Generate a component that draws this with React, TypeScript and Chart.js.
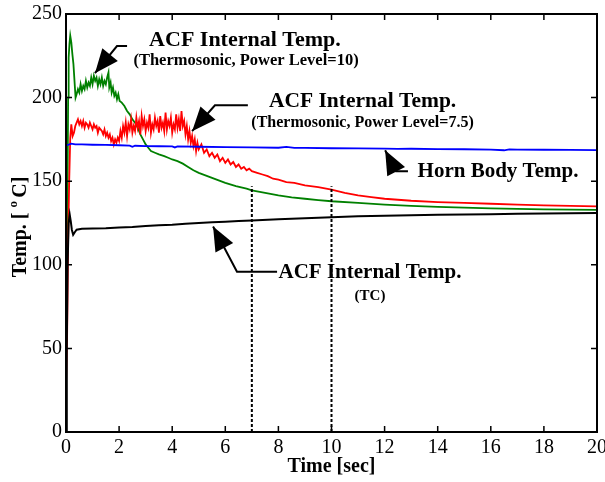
import { useEffect, useRef } from 'react';
import { Chart, registerables } from 'chart.js';

Chart.register(...registerables);

const xTicks = [0, 2, 4, 6, 8, 10, 12, 14, 16, 18, 20];
const yTicks = [0, 50, 100, 150, 200, 250];

// [time (sec), temperature (°C)]
const powerLevel10: number[][] = [
  [0, 40], [0.04, 100], [0.08, 200], [0.1, 224], [0.13, 232], [0.16, 237], [0.2, 233], [0.24, 226],
  [0.28, 220], [0.32, 210], [0.36, 200], [0.4, 202], [0.45, 205], [0.5, 203], [0.55, 208], [0.6, 204],
  [0.65, 207], [0.7, 205], [0.75, 210], [0.8, 206], [0.85, 209], [0.9, 207], [0.95, 212], [1.0, 208],
  [1.05, 213], [1.1, 210], [1.15, 212], [1.2, 207], [1.25, 211], [1.3, 208], [1.35, 212], [1.4, 207],
  [1.45, 210], [1.5, 208], [1.55, 212], [1.6, 215], [1.63, 206], [1.68, 209], [1.72, 203], [1.77, 206],
  [1.82, 201], [1.87, 203], [1.92, 199], [1.97, 202], [2.02, 198], [2.1, 197], [2.2, 195], [2.3, 192],
  [2.4, 190], [2.5, 187], [2.6, 185], [2.7, 182], [2.8, 178], [2.9, 175], [3.0, 172], [3.1, 170],
  [3.2, 168], [3.35, 167], [3.5, 166], [3.7, 165], [3.85, 164], [4.0, 163], [4.2, 162], [4.4, 160.5],
  [4.6, 158.5], [4.8, 156.5], [5.0, 155], [5.25, 153.5], [5.5, 152], [5.75, 150.5], [6.0, 149],
  [6.4, 147], [6.8, 145.5], [7.0, 144.5], [7.5, 143], [8.0, 141.5], [8.5, 140.3], [9.0, 139.5],
  [9.5, 138.7], [10.0, 138], [11.0, 137], [12.0, 136], [13.0, 135.3], [14.0, 134.7], [15.0, 134.2],
  [16.0, 133.8], [17.0, 133.5], [18.0, 133.2], [19.0, 133], [20.0, 132.8],
];

const powerLevel75: number[][] = [
  [0, 28], [0.04, 55], [0.08, 115], [0.12, 150], [0.16, 176], [0.2, 184], [0.25, 177], [0.3, 179],
  [0.35, 183], [0.4, 185], [0.45, 187], [0.5, 184], [0.55, 186], [0.6, 183], [0.65, 186], [0.7, 182],
  [0.75, 185], [0.8, 184], [0.85, 182], [0.9, 185], [0.95, 183], [1.0, 181], [1.05, 184], [1.1, 182],
  [1.15, 183], [1.2, 179], [1.25, 182], [1.3, 181], [1.35, 180], [1.4, 178], [1.45, 181], [1.5, 177],
  [1.55, 179], [1.6, 176], [1.65, 178], [1.7, 174], [1.75, 176], [1.8, 172], [1.85, 175], [1.9, 173],
  [1.95, 176], [2.0, 174], [2.05, 180], [2.1, 176], [2.15, 183], [2.2, 179], [2.25, 185], [2.3, 177],
  [2.35, 184], [2.4, 181], [2.45, 187], [2.5, 179], [2.55, 183], [2.6, 180], [2.65, 188], [2.7, 182],
  [2.75, 186], [2.8, 178], [2.85, 189], [2.9, 183], [2.95, 187], [3.0, 180], [3.05, 185], [3.1, 182],
  [3.15, 190], [3.2, 179], [3.25, 184], [3.3, 181], [3.35, 188], [3.4, 183], [3.45, 186], [3.5, 179],
  [3.55, 189], [3.6, 182], [3.65, 185], [3.7, 180], [3.75, 191], [3.8, 181], [3.85, 186], [3.9, 183],
  [3.95, 188], [4.0, 179], [4.05, 184], [4.1, 181], [4.15, 190], [4.2, 182], [4.25, 187], [4.3, 180],
  [4.35, 192], [4.4, 183], [4.45, 186], [4.5, 178], [4.55, 183], [4.6, 175], [4.65, 180], [4.7, 173],
  [4.75, 177], [4.8, 171], [4.85, 175], [4.9, 168], [4.95, 173], [5.0, 169], [5.1, 172], [5.2, 167],
  [5.3, 169], [5.4, 165], [5.5, 167], [5.6, 164], [5.7, 166], [5.8, 162], [5.9, 164], [6.0, 161],
  [6.1, 163], [6.2, 160], [6.3, 161.5], [6.4, 158.5], [6.5, 160], [6.6, 157.5], [6.7, 158.5],
  [6.8, 156.5], [6.9, 157.5], [7.0, 156], [7.2, 155], [7.4, 154], [7.6, 153], [7.8, 151.5], [8.0, 151],
  [8.3, 149.5], [8.6, 149], [9.0, 147.5], [9.5, 146.5], [10.0, 145], [10.5, 143], [11.0, 141.5],
  [11.5, 140.5], [12.0, 139.5], [13.0, 138.3], [14.0, 137.5], [15.0, 137], [16.0, 136.5], [17.0, 136],
  [18.0, 135.6], [19.0, 135.3], [20.0, 135],
];

const hornBody: number[][] = [
  [0.03, 171.5], [0.2, 172.5], [0.35, 172], [0.6, 172], [1, 171.8], [1.5, 171.7], [2, 171.5],
  [2.4, 171.3], [2.5, 170.6], [2.6, 171.2], [3, 171], [3.5, 170.9], [4, 170.8], [4.1, 170.2],
  [4.2, 170.8], [5, 170.6], [6, 170.4], [7, 170.2], [8, 170], [8.3, 170.5], [8.6, 169.9], [9, 169.9],
  [10, 169.7], [11, 169.6], [12, 169.5], [12.5, 169.3], [13, 169.4], [14, 169.2], [15, 169.1],
  [16, 168.9], [16.5, 168.5], [16.7, 169], [17, 168.9], [18, 168.8], [19, 168.7], [20, 168.6],
];

const thermocouple: number[][] = [
  [0, 0], [0.03, 50], [0.06, 100], [0.1, 125], [0.14, 130], [0.18, 126], [0.22, 121], [0.27, 118],
  [0.33, 119.5], [0.4, 121], [0.6, 121.5], [1, 121.7], [1.5, 121.9], [2, 122.3], [2.5, 122.6],
  [3, 123.2], [3.5, 123.6], [4, 124], [4.5, 124.6], [5, 125], [5.5, 125.4], [6, 125.8], [6.5, 126.2],
  [7, 126.5], [8, 127.2], [9, 127.8], [10, 128.5], [11, 129], [12, 129.4], [13, 129.7], [14, 129.9],
  [15, 130.1], [16, 130.3], [17, 130.5], [18, 130.7], [19, 130.8], [20, 131],
];

const markerTimes = [7, 10];
const markerTop = 147;

// annotation arrows: [end, elbow, tip] in data coordinates
const arrows: number[][][] = [
  [[2.3, 230.8], [1.92, 230.8], [1.09, 214.6]],
  [[6.85, 195.4], [5.61, 195.4], [4.75, 179.9]],
  [[12.88, 155.9], [12.43, 155.9], [12.02, 168.5]],
  [[7.95, 95.9], [6.44, 95.9], [5.54, 122.9]],
];

// annotation texts: [text, centre x, baseline y, font size]
const labels: [string, number, number, number][] = [
  ['ACF Internal Temp.', 6.74, 230.8, 22],
  ['(Thermosonic, Power Level=10)', 6.78, 219.4, 16.5],
  ['ACF Internal Temp.', 11.17, 194.2, 21.5],
  ['(Thermosonic, Power Level=7.5)', 11.17, 182.3, 16],
  ['Horn Body Temp.', 16.27, 152.3, 21],
  ['ACF Internal Temp.', 11.45, 92.3, 21],
  ['(TC)', 11.45, 79.1, 15],
];

const SERIF = '"Liberation Serif", "Times New Roman", serif';

const toPts = (arr: number[][]) => arr.map(([x, y]) => ({ x, y }));

const overlay = {
  id: 'overlay',
  afterDatasetsDraw(chart: any) {
    const { ctx, chartArea: a, scales } = chart;
    const xs = scales.x;
    const ys = scales.y;
    ctx.save();
    ctx.strokeStyle = '#000';
    ctx.fillStyle = '#000';
    ctx.lineWidth = 2;
    ctx.strokeRect(a.left, a.top, a.right - a.left, a.bottom - a.top);
    ctx.lineWidth = 1.5;
    ctx.beginPath();
    xTicks.forEach((v) => {
      const px = xs.getPixelForValue(v);
      ctx.moveTo(px, a.bottom);
      ctx.lineTo(px, a.bottom - 6);
      ctx.moveTo(px, a.top);
      ctx.lineTo(px, a.top + 6);
    });
    yTicks.forEach((v) => {
      const py = ys.getPixelForValue(v);
      ctx.moveTo(a.left, py);
      ctx.lineTo(a.left + 6, py);
      ctx.moveTo(a.right, py);
      ctx.lineTo(a.right - 6, py);
    });
    ctx.stroke();

    // arrows
    arrows.forEach((pts) => {
      const p = pts.map(([x, y]) => [xs.getPixelForValue(x), ys.getPixelForValue(y)]);
      ctx.lineWidth = 2;
      ctx.beginPath();
      ctx.moveTo(p[0][0], p[0][1]);
      ctx.lineTo(p[1][0], p[1][1]);
      ctx.lineTo(p[2][0], p[2][1]);
      ctx.stroke();
      const dx = p[2][0] - p[1][0];
      const dy = p[2][1] - p[1][1];
      const len = Math.hypot(dx, dy);
      const ux = dx / len;
      const uy = dy / len;
      const L = 24;
      const W = 10;
      const bx = p[2][0] - ux * L;
      const by = p[2][1] - uy * L;
      ctx.beginPath();
      ctx.moveTo(p[2][0], p[2][1]);
      ctx.lineTo(bx - uy * W, by + ux * W);
      ctx.lineTo(bx + uy * W, by - ux * W);
      ctx.closePath();
      ctx.fill();
    });

    // texts
    ctx.textAlign = 'center';
    ctx.textBaseline = 'alphabetic';
    labels.forEach(([t, x, y, size]) => {
      ctx.font = `bold ${size}px ${SERIF}`;
      ctx.fillText(t, xs.getPixelForValue(x), ys.getPixelForValue(y));
    });

    // x axis title
    ctx.font = `bold 20px ${SERIF}`;
    ctx.fillText('Time [sec]', (a.left + a.right) / 2, 472);

    // y axis title with superscript
    ctx.translate(26, (a.top + a.bottom) / 2 + 4);
    ctx.rotate(-Math.PI / 2);
    ctx.textAlign = 'left';
    const big = `bold 20px ${SERIF}`;
    const small = `bold 13px ${SERIF}`;
    const parts: [string, string, number][] = [
      ['Temp. [', big, 0],
      [' ', big, 0],
      ['o', small, -9],
      [' ', small, 0],
      ['C]', big, 0],
    ];
    let total = 0;
    parts.forEach(([t, f]) => {
      ctx.font = f;
      total += ctx.measureText(t).width;
    });
    let cx = -total / 2;
    parts.forEach(([t, f, dy]) => {
      ctx.font = f;
      ctx.fillText(t, cx, dy);
      cx += ctx.measureText(t).width;
    });
    ctx.restore();
  },
};

export default function App() {
  const ref = useRef<HTMLCanvasElement | null>(null);

  useEffect(() => {
    if (!ref.current) return;
    const tickFont = { family: SERIF, size: 20 };
    const line = (data: number[][], color: string, width: number, order: number) => ({
      data: toPts(data),
      borderColor: color,
      backgroundColor: color,
      borderWidth: width,
      showLine: true,
      pointRadius: 0,
      tension: 0,
      fill: false,
      order,
    });
    const markers = markerTimes.map((t) => ({
      data: [{ x: t, y: 0 }, { x: t, y: markerTop }],
      borderColor: '#000',
      borderWidth: 2,
      borderDash: [3, 2],
      showLine: true,
      pointRadius: 0,
      fill: false,
      order: 0,
    }));
    const chart = new Chart(ref.current, {
      type: 'scatter',
      data: {
        datasets: [
          ...markers,
          line(thermocouple, '#000000', 2, 1),
          line(hornBody, '#0000ff', 1.8, 2),
          line(powerLevel75, '#ff0000', 1.8, 3),
          line(powerLevel10, '#008000', 1.8, 4),
        ] as any,
      },
      options: {
        animation: false,
        responsive: false,
        maintainAspectRatio: false,
        layout: { padding: { top: 14, right: 8, left: 0, bottom: 0 } },
        plugins: { legend: { display: false }, tooltip: { enabled: false } },
        scales: {
          x: {
            type: 'linear',
            min: 0,
            max: 20,
            afterBuildTicks: (s: any) => {
              s.ticks = xTicks.map((v) => ({ value: v }));
            },
            afterFit: (s: any) => {
              s.height = 50;
              s.paddingLeft = 0;
              s.paddingRight = 0;
            },
            ticks: { font: tickFont, color: '#000', padding: 4, maxRotation: 0, autoSkip: false },
            grid: { display: false, drawTicks: false },
            border: { display: false },
          },
          y: {
            type: 'linear',
            min: 0,
            max: 250,
            afterBuildTicks: (s: any) => {
              s.ticks = yTicks.map((v) => ({ value: v }));
            },
            afterFit: (s: any) => {
              s.width = 66;
              s.paddingTop = 0;
              s.paddingBottom = 0;
            },
            ticks: { font: tickFont, color: '#000', padding: 4, autoSkip: false },
            grid: { display: false, drawTicks: false },
            border: { display: false },
          },
        },
      } as any,
      plugins: [overlay],
    });
    return () => chart.destroy();
  }, []);

  return (
    <div style={{ position: 'absolute', left: 0, top: 0, width: 605, height: 482, background: '#fff' }}>
      <canvas ref={ref} width={605} height={482} style={{ display: 'block' }} />
    </div>
  );
}
